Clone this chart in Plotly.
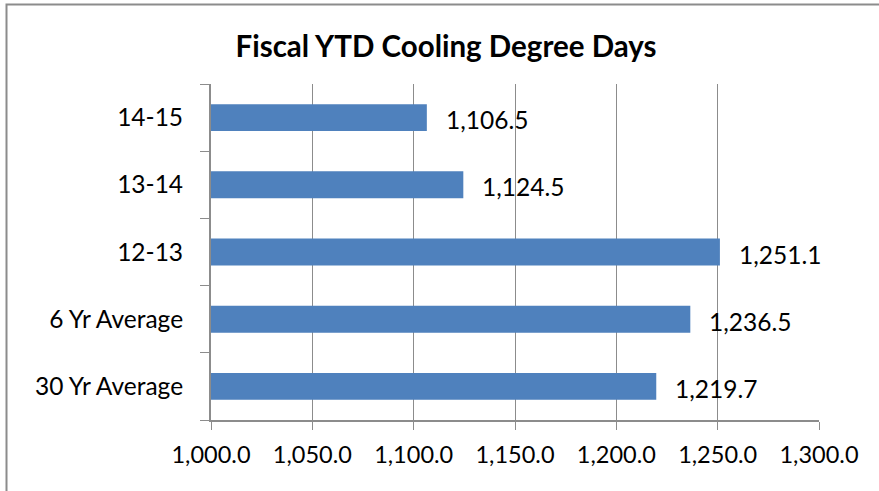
import plotly.graph_objects as go

categories = ["30 Yr Average", "6 Yr Average", "12-13", "13-14", "14-15"]
values = [1219.7, 1236.5, 1251.1, 1124.5, 1106.5]
x_tick_vals = [1000, 1050, 1100, 1150, 1200, 1250, 1300]
x_tick_text = ["1,000.0", "1,050.0", "1,100.0", "1,150.0", "1,200.0", "1,250.0", "1,300.0"]
title_text = "Fiscal YTD Cooling Degree Days"

FONT = "Lato"
W, H = 879, 491
PL, PR, PT, PB = 211, 819, 84, 420  # plot area in window pixels
ML = PL
MT = PT
MR = W - PR
MB = H - PB
pw, ph = W - ML - MR, H - MT - MB

fig = go.Figure()
fig.add_trace(go.Bar(
    x=values, y=categories, orientation="h",
    marker=dict(color="#4F81BD", line=dict(width=0)),
    hoverinfo="skip",
))

for c, v in zip(categories, values):
    fig.add_annotation(
        x=v, y=c, xref="x", yref="y",
        text=f"{v:,.1f}", showarrow=False,
        xanchor="left", yanchor="middle", xshift=17, yshift=-2,
        font=dict(family=FONT, size=24.5, color="#000000"),
    )

def px_to_paper_x(px):
    return (px - ML) / pw

def px_to_paper_y(py):
    return (H - MB - py) / ph

fig.add_shape(
    type="rect", xref="paper", yref="paper",
    x0=px_to_paper_x(6.5), x1=px_to_paper_x(W + 40),
    y0=px_to_paper_y(H + 40), y1=px_to_paper_y(4.5),
    line=dict(color="#8C8C8C", width=2), fillcolor="rgba(0,0,0,0)",
    layer="below",
)

fig.update_layout(
    width=W, height=H,
    margin=dict(l=ML, r=MR, t=MT, b=MB, pad=0),
    paper_bgcolor="white", plot_bgcolor="white",
    showlegend=False,
    bargap=0.6,
    hovermode=False,
    title=dict(
        text=f"<b>{title_text}</b>",
        x=446 / W, xanchor="center", y=1 - 47 / H, yanchor="middle",
        font=dict(family=FONT, size=29.5, color="#000000"),
    ),
    xaxis=dict(
        range=[1000, 1300], tickmode="array",
        tickvals=x_tick_vals, ticktext=x_tick_text,
        showgrid=True, gridcolor="#8C8C8C", gridwidth=1,
        showline=True, linecolor="#8C8C8C", linewidth=2,
        ticks="outside", ticklen=8, tickcolor="#8C8C8C", tickwidth=1,
        ticklabelstandoff=5,
        tickfont=dict(family=FONT, size=23.5, color="#000000"),
        zeroline=False, fixedrange=True,
    ),
    yaxis=dict(
        type="category", categoryorder="array", categoryarray=categories,
        showgrid=False,
        showline=True, linecolor="#8C8C8C", linewidth=2,
        ticks="outside", ticklen=9, tickcolor="#8C8C8C", tickwidth=1,
        tickson="boundaries",
        ticklabelstandoff=21,
        tickfont=dict(family=FONT, size=24.5, color="#000000"),
        fixedrange=True,
    ),
)

fig.write_html(
    "out.html",
    config={"displayModeBar": False, "staticPlot": True},
    post_script="document.body.style.margin='0';document.body.style.overflow='hidden';",
)
